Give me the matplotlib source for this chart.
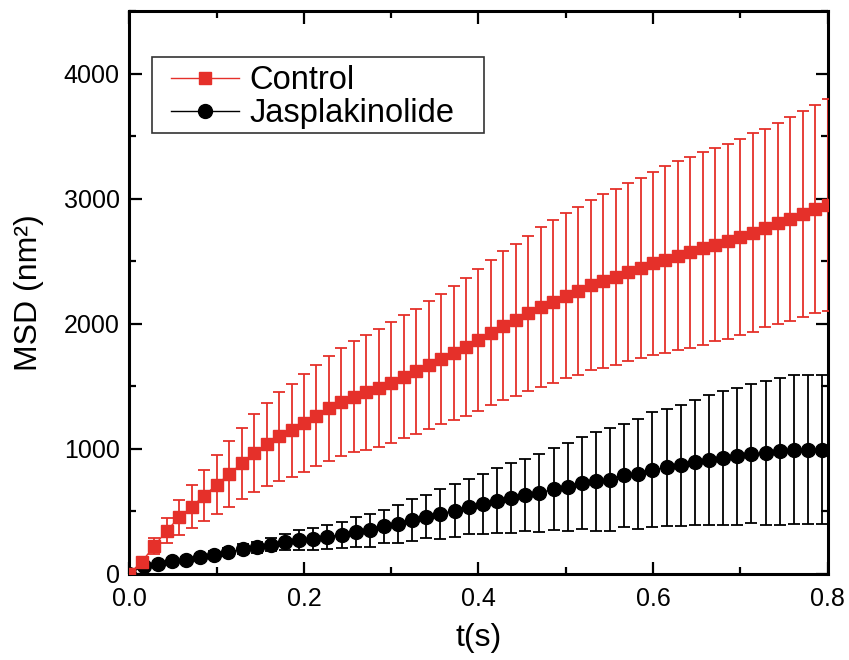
import matplotlib
matplotlib.use("Agg")
import matplotlib.pyplot as plt
import numpy as np
from matplotlib.patches import Rectangle
from matplotlib.ticker import MultipleLocator, FormatStrFormatter

plt.rcParams["font.family"] = ["Liberation Sans", "DejaVu Sans"]

# Control: sampled every 0.8/56 s
control_step = 0.8 / 56
control_msd = [
    0, 95, 223, 344, 451, 536, 624, 710, 796, 881,
    964, 1033, 1098, 1146, 1205, 1264, 1323, 1371, 1414, 1450,
    1487, 1527, 1574, 1619, 1670, 1718, 1766, 1814, 1870, 1928,
    1984, 2030, 2082, 2130, 2176, 2224, 2261, 2309, 2340, 2375,
    2410, 2445, 2482, 2511, 2543, 2570, 2601, 2631, 2660, 2695,
    2727, 2764, 2801, 2836, 2876, 2916, 2950,
]
control_err = [
    0, 25, 63, 102, 141, 175, 205, 237, 261, 285,
    309, 335, 357, 374, 391, 404, 419, 430, 445, 460,
    471, 484, 492, 499, 510, 522, 534, 552, 568, 582,
    596, 607, 622, 639, 651, 662, 672, 682, 695, 705,
    713, 723, 734, 748, 758, 766, 772, 772, 780, 785,
    796, 795, 806, 817, 825, 833, 849,
]

# Jasplakinolide: sampled every ~0.0162 s
jasp_step = 0.0162
jasp_msd = [
    0, 60, 75, 98, 111, 132, 151, 171, 196, 211,
    232, 250, 268, 280, 294, 310, 331, 345, 378, 397,
    429, 456, 478, 504, 536, 558, 584, 604, 630, 644,
    676, 692, 724, 737, 752, 785, 799, 831, 849, 865,
    889, 905, 921, 937, 957, 965, 978, 991, 991, 991,
]
jasp_err = [
    0, 10, 12, 15, 18, 22, 27, 33, 40, 45,
    50, 65, 80, 88, 96, 105, 118, 131, 134, 153,
    167, 174, 198, 214, 222, 241, 260, 280, 289, 315,
    329, 353, 369, 393, 410, 415, 439, 460, 469, 487,
    503, 520, 536, 550, 556, 575, 586, 594, 597, 594,
]

control_t = np.arange(len(control_msd)) * control_step
jasp_t = np.arange(len(jasp_msd)) * jasp_step

red = "#e5302a"

fig = plt.figure(figsize=(8.49, 6.6), dpi=100)
ax = fig.add_axes([0.1525, 0.131, 0.8222, 0.8523])

jasp = ax.errorbar(jasp_t, jasp_msd, yerr=jasp_err, color="black", marker="o",
                   markersize=10, linewidth=1.0, elinewidth=1.3, capsize=4.5,
                   capthick=1.3, label="Jasplakinolide", zorder=3)
ctrl = ax.errorbar(control_t, control_msd, yerr=control_err, color=red, marker="s",
                   markersize=8.5, linewidth=1.0, elinewidth=1.3, capsize=4.5,
                   capthick=1.3, label="Control", zorder=4)

ax.set_xlim(0, 0.8)
ax.set_ylim(0, 4500)
ax.xaxis.set_major_locator(MultipleLocator(0.2))
ax.xaxis.set_minor_locator(MultipleLocator(0.1))
ax.xaxis.set_major_formatter(FormatStrFormatter("%.1f"))
ax.yaxis.set_minor_locator(MultipleLocator(500))
ax.set_yticks([0, 1000, 2000, 3000, 4000])

ax.tick_params(which="both", direction="in", top=True, right=True,
               width=1.6, labelsize=18)
ax.tick_params(which="major", length=9)
ax.tick_params(which="minor", length=5)
ax.tick_params(axis="x", which="major", pad=10)
ax.tick_params(axis="y", which="major", pad=7)
for s in ax.spines.values():
    s.set_linewidth(2.2)

ax.set_xlabel("t(s)", fontsize=23, labelpad=8)
ax.set_ylabel("MSD (nm²)", fontsize=23, labelpad=14)

# legend box drawn separately so its width can match the original
ax.add_patch(Rectangle((0.032, 0.783), 0.476, 0.135, transform=ax.transAxes,
                       fill=False, edgecolor="#333333", linewidth=1.2, zorder=5))
ax.legend([ctrl[0], jasp[0]], ["Control", "Jasplakinolide"], loc="upper left",
          bbox_to_anchor=(0.05, 0.915), borderaxespad=0,
          fontsize=23.5, frameon=False,
          handlelength=2.1, handletextpad=0.3, labelspacing=0.05,
          borderpad=0.2)

fig.savefig("out.png", dpi=100)
